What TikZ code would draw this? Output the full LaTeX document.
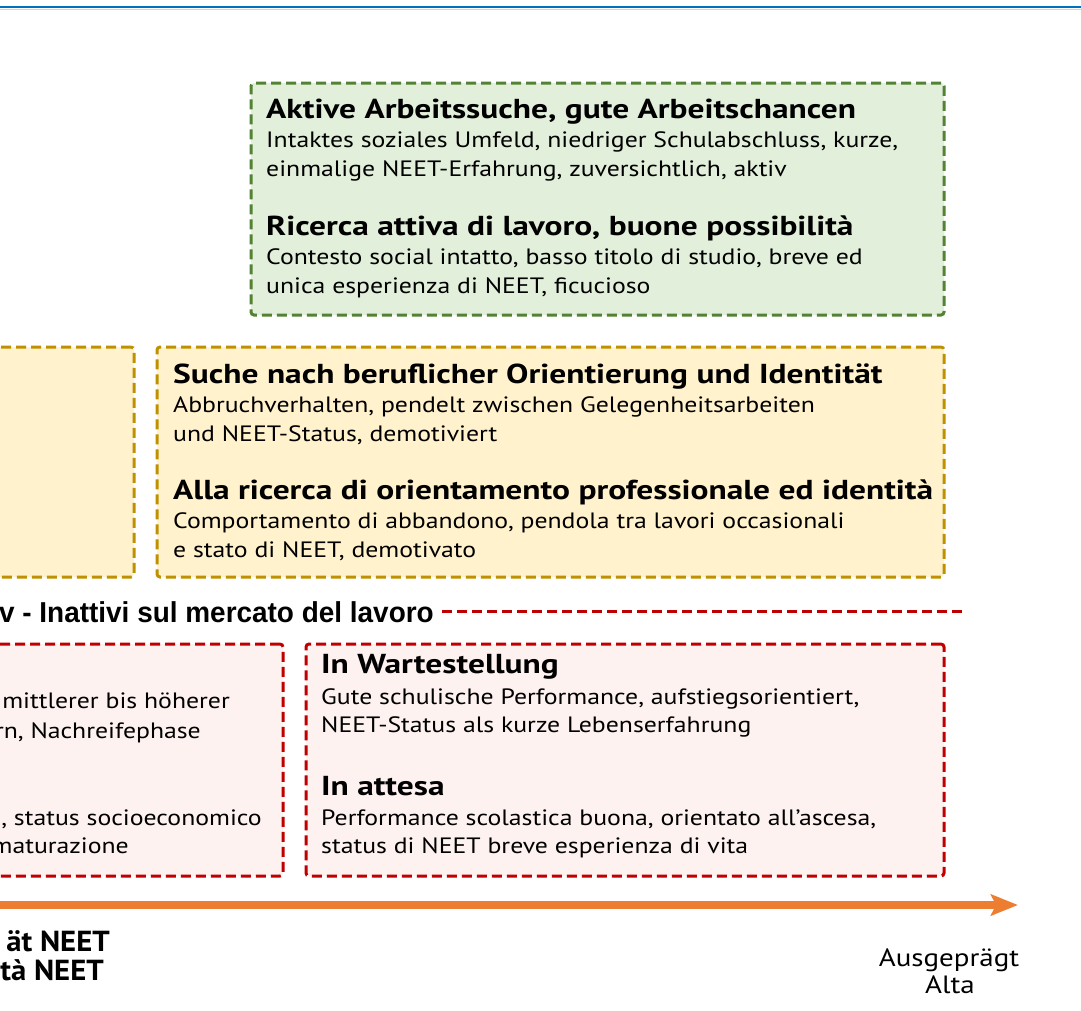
\documentclass[tikz,border=0pt]{standalone}
\usepackage{fontspec}
\setmainfont{PT Sans}[FakeStretch=1.16]
\newfontfamily\headfont{PT Sans}[FakeStretch=1.22]
\newfontfamily\axisfont{PT Sans}[FakeStretch=1.06]
\newfontfamily\condfont{Liberation Sans}[FakeStretch=0.97]
\usetikzlibrary{arrows.meta}
\definecolor{gfill}{HTML}{E2EFDA}
\definecolor{gline}{HTML}{548235}
\definecolor{yfill}{HTML}{FFF2CC}
\definecolor{yline}{HTML}{BF9000}
\definecolor{rfill}{HTML}{FDF2F0}
\definecolor{rline}{HTML}{C00000}
\definecolor{axisor}{HTML}{ED7D31}
\definecolor{topblue}{HTML}{0070C0}
\definecolor{topblue2}{HTML}{BDD7EE}
\begin{document}
\begin{tikzpicture}[x=1pt,y=-1pt,
  box/.style={draw, line width=3pt, dash pattern=on 10pt off 5pt, rounded corners=3pt,
    anchor=north west, inner sep=0pt, outer sep=0pt},
  gbox/.style={box, draw=gline, fill=gfill},
  ybox/.style={box, draw=yline, fill=yfill},
  rbox/.style={box, draw=rline, fill=rfill},
  head/.style={anchor=base west, inner sep=0pt, font=\fontsize{27.4}{31}\headfont\bfseries},
  body/.style={anchor=base west, inner sep=0pt, font=\fontsize{22.2}{26}\selectfont},
  bodyr/.style={body, anchor=base east},
  axlab/.style={inner sep=0pt, font=\fontsize{25}{29}\selectfont},
  axlabb/.style={inner sep=0pt, anchor=base east, font=\fontsize{29}{33}\axisfont\bfseries},
  zone/.style={inner sep=0pt, anchor=base east, font=\fontsize{28.8}{32}\condfont\bfseries},
]
\useasboundingbox (0,0) rectangle (1081,1010);
% top rule
\draw[topblue, line width=2.2pt] (-5,7.3) -- (1090,7.3);
\draw[topblue2, line width=1.2pt] (-5,9.1) -- (1090,9.1);

% green box
\node[gbox, minimum width=693pt, minimum height=232pt] (green) at (251,83) {};
\node[head] (g1) at (266,118) {Aktive Arbeitssuche, gute Arbeitschancen};
\node[body] (g2) at (266,147) {Intaktes soziales Umfeld, niedriger Schulabschluss, kurze,};
\node[body] (g3) at (266,176) {einmalige NEET-Erfahrung, zuversichtlich, aktiv};
\node[head] (g4) at (266,235) {Ricerca attiva di lavoro, buone possibilità};
\node[body] (g5) at (266,264) {Contesto social intatto, basso titolo di studio, breve ed};
\node[body] (g6) at (266,293) {unica esperienza di NEET, ficucioso};

% yellow boxes
\node[ybox, minimum width=164pt, minimum height=230pt] (yleft) at (-30,347) {};
\node[ybox, minimum width=787pt, minimum height=230pt] (yright) at (157,347) {};
\node[head] (y1) at (173,383) {Suche nach beruflicher Orientierung und Identität};
\node[body] (y2) at (173,412) {Abbruchverhalten, pendelt zwischen Gelegenheitsarbeiten};
\node[body] (y3) at (173,441) {und NEET-Status, demotiviert};
\node[head] (y4) at (173,499) {Alla ricerca di orientamento professionale ed identità};
\node[body] (y5) at (173,528) {Comportamento di abbandono, pendola tra lavori occasionali};
\node[body] (y6) at (173,557) {e stato di NEET, demotivato};

% zone label with dashed line
\node[zone] (zlab) at (434,622) {v - Inattivi sul mercato del lavoro};
\coordinate (zend) at (964,0);
\draw[rline, line width=3pt, dash pattern=on 10pt off 5pt] (zlab.east) ++(8,0) -- (zlab.east -| zend);

% red boxes
\node[rbox, minimum width=313pt, minimum height=232pt] (rleft) at (-30,644) {};
\node[bodyr] (l1) at (230,708) {mittlerer bis höherer};
\node[bodyr] (l2) at (201,738) {rn, Nachreifephase};
\node[bodyr] (l3) at (262,825) {, status socioeconomico};
\node[bodyr] (l4) at (129,853) {maturazione};
\node[rbox, minimum width=638pt, minimum height=232pt] (rright) at (306,644) {};
\node[head] (r1) at (321,673) {In Wartestellung};
\node[body] (r2) at (321,704) {Gute schulische Performance, aufstiegsorientiert,};
\node[body] (r3) at (321,732) {NEET-Status als kurze Lebenserfahrung};
\node[head] (r4) at (321,795) {In attesa};
\node[body] (r5) at (321,825) {Performance scolastica buona, orientato all’ascesa,};
\node[body] (r6) at (321,853) {status di NEET breve esperienza di vita};

% axis
\coordinate (axstart) at (-10,905);
\coordinate (axend) at (1018,905);
\draw[axisor, line width=7.5pt, -{Stealth[length=27pt, width=21pt, inset=5pt]}] (axstart) -- (axend);
\node[axlabb] (b1) at (110,951) {ät NEET};
\node[axlabb] (b2) at (104,980) {tà NEET};
\node[axlab, anchor=base] (a1) at (949,966) {Ausgeprägt};
\node[axlab, anchor=base] (a2) at (950,993) {Alta};
\end{tikzpicture}
\end{document}
